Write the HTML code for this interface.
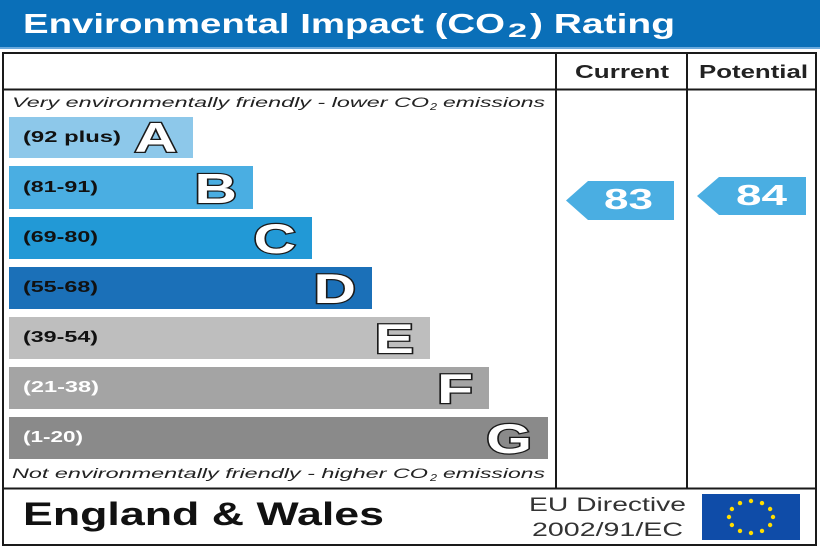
<!DOCTYPE html>
<html>
<head>
<meta charset="utf-8">
<style>
  html, body { margin: 0; padding: 0; background: #fff; }
  svg { display: block; }
  text { font-family: "Liberation Sans", Arial, sans-serif; }
</style>
</head>
<body>
<svg width="820" height="547" viewBox="0 0 820 547" xmlns="http://www.w3.org/2000/svg">
  <rect x="0" y="0" width="820" height="547" fill="#ffffff"/>

  <!-- Title bar -->
  <rect x="0" y="0" width="820" height="47" fill="#0a6fb8"/>
  <rect x="0" y="47" width="820" height="2" fill="#6aa9dc"/>
  <text x="23" y="33" font-size="28" font-weight="bold" fill="#ffffff" textLength="482" lengthAdjust="spacingAndGlyphs">Environmental Impact (CO</text>
  <text x="508" y="37" font-size="19" font-weight="bold" fill="#ffffff" textLength="19" lengthAdjust="spacingAndGlyphs">2</text>
  <text x="530" y="33" font-size="28" font-weight="bold" fill="#ffffff" textLength="145" lengthAdjust="spacingAndGlyphs">) Rating</text>

  <!-- Table frame -->
  <rect x="3" y="53" width="813" height="492" fill="none" stroke="#1a1a1a" stroke-width="2"/>
  <line x1="3" y1="89.5" x2="816" y2="89.5" stroke="#1a1a1a" stroke-width="2"/>
  <line x1="3" y1="488.5" x2="816" y2="488.5" stroke="#1a1a1a" stroke-width="2"/>
  <line x1="556" y1="53" x2="556" y2="488" stroke="#1a1a1a" stroke-width="2"/>
  <line x1="687" y1="53" x2="687" y2="488" stroke="#1a1a1a" stroke-width="2"/>

  <!-- Headers -->
  <text x="575" y="78" font-size="18" font-weight="bold" fill="#222" textLength="94" lengthAdjust="spacingAndGlyphs">Current</text>
  <text x="699" y="78" font-size="18" font-weight="bold" fill="#222" textLength="109" lengthAdjust="spacingAndGlyphs">Potential</text>

  <!-- Top italic line -->
  <text x="12" y="107" font-size="14" font-style="italic" fill="#222" textLength="417" lengthAdjust="spacingAndGlyphs">Very environmentally friendly - lower CO</text>
  <text x="430" y="110" font-size="10" font-style="italic" fill="#222" textLength="7" lengthAdjust="spacingAndGlyphs">2</text>
  <text x="443" y="107" font-size="14" font-style="italic" fill="#222" textLength="102" lengthAdjust="spacingAndGlyphs">emissions</text>

  <!-- Bars -->
  <rect x="9" y="117" width="184" height="41" fill="#8dc8ea"/>
  <rect x="9" y="166" width="244" height="43" fill="#4aaee2"/>
  <rect x="9" y="217" width="303" height="42" fill="#2299d6"/>
  <rect x="9" y="267" width="363" height="42" fill="#1b70b8"/>
  <rect x="9" y="317" width="421" height="42" fill="#bebebe"/>
  <rect x="9" y="367" width="480" height="42" fill="#a4a4a4"/>
  <rect x="9" y="417" width="539" height="42" fill="#8a8a8a"/>

  <!-- Bar labels -->
  <g font-size="16" font-weight="bold">
    <text x="23" y="142" fill="#111" textLength="98" lengthAdjust="spacingAndGlyphs">(92 plus)</text>
    <text x="23" y="192" fill="#111" textLength="75" lengthAdjust="spacingAndGlyphs">(81-91)</text>
    <text x="23" y="242" fill="#111" textLength="75" lengthAdjust="spacingAndGlyphs">(69-80)</text>
    <text x="23" y="292" fill="#111" textLength="75" lengthAdjust="spacingAndGlyphs">(55-68)</text>
    <text x="23" y="342" fill="#111" textLength="75" lengthAdjust="spacingAndGlyphs">(39-54)</text>
    <text x="23" y="392" fill="#ffffff" textLength="76" lengthAdjust="spacingAndGlyphs">(21-38)</text>
    <text x="23" y="442" fill="#ffffff" textLength="60" lengthAdjust="spacingAndGlyphs">(1-20)</text>
  </g>

  <!-- Bar letters -->
  <g font-size="42" font-weight="bold" fill="#ffffff" stroke="#1a1a1a" stroke-width="2.4" paint-order="stroke" text-anchor="end">
    <g transform="translate(177,152) scale(1.4,1)"><text x="0" y="0">A</text></g>
    <g transform="translate(237,203) scale(1.4,1)"><text x="0" y="0">B</text></g>
    <g transform="translate(296,253) scale(1.4,1)"><text x="0" y="0">C</text></g>
    <g transform="translate(356,303) scale(1.4,1)"><text x="0" y="0">D</text></g>
    <g transform="translate(414,353) scale(1.4,1)"><text x="0" y="0">E</text></g>
    <g transform="translate(473,403) scale(1.4,1)"><text x="0" y="0">F</text></g>
    <g transform="translate(532,453) scale(1.4,1)"><text x="0" y="0">G</text></g>
  </g>

  <!-- Bottom italic line -->
  <text x="12" y="478" font-size="14" font-style="italic" fill="#222" textLength="416" lengthAdjust="spacingAndGlyphs">Not environmentally friendly - higher CO</text>
  <text x="430" y="481" font-size="10" font-style="italic" fill="#222" textLength="7" lengthAdjust="spacingAndGlyphs">2</text>
  <text x="443" y="478" font-size="14" font-style="italic" fill="#222" textLength="102" lengthAdjust="spacingAndGlyphs">emissions</text>

  <!-- Current arrow -->
  <polygon points="566,200.5 588,181 674,181 674,220 588,220" fill="#4aaee2"/>
  <text x="604" y="209" font-size="29" font-weight="bold" fill="#ffffff" textLength="49" lengthAdjust="spacingAndGlyphs">83</text>

  <!-- Potential arrow -->
  <polygon points="697,196 719,177 806,177 806,215 719,215" fill="#4aaee2"/>
  <text x="736" y="205" font-size="29" font-weight="bold" fill="#ffffff" textLength="51" lengthAdjust="spacingAndGlyphs">84</text>

  <!-- Footer -->
  <text x="23" y="525" font-size="32" font-weight="bold" fill="#111" textLength="361" lengthAdjust="spacingAndGlyphs">England &amp; Wales</text>
  <text x="529" y="511" font-size="19" fill="#333" textLength="157" lengthAdjust="spacingAndGlyphs">EU Directive</text>
  <text x="532" y="536" font-size="19" fill="#333" textLength="151" lengthAdjust="spacingAndGlyphs">2002/91/EC</text>

  <!-- EU flag -->
  <rect x="702" y="494" width="98" height="46" fill="#0f4ca8"/>
  <g fill="#ffdd00">
    <circle cx="751" cy="501" r="2.2"/>
    <circle cx="762" cy="503.1" r="2.2"/>
    <circle cx="770.1" cy="509" r="2.2"/>
    <circle cx="773" cy="517" r="2.2"/>
    <circle cx="770.1" cy="525" r="2.2"/>
    <circle cx="762" cy="530.9" r="2.2"/>
    <circle cx="751" cy="533" r="2.2"/>
    <circle cx="740" cy="530.9" r="2.2"/>
    <circle cx="731.9" cy="525" r="2.2"/>
    <circle cx="729" cy="517" r="2.2"/>
    <circle cx="731.9" cy="509" r="2.2"/>
    <circle cx="740" cy="503.1" r="2.2"/>
  </g>
</svg>
</body>
</html>
